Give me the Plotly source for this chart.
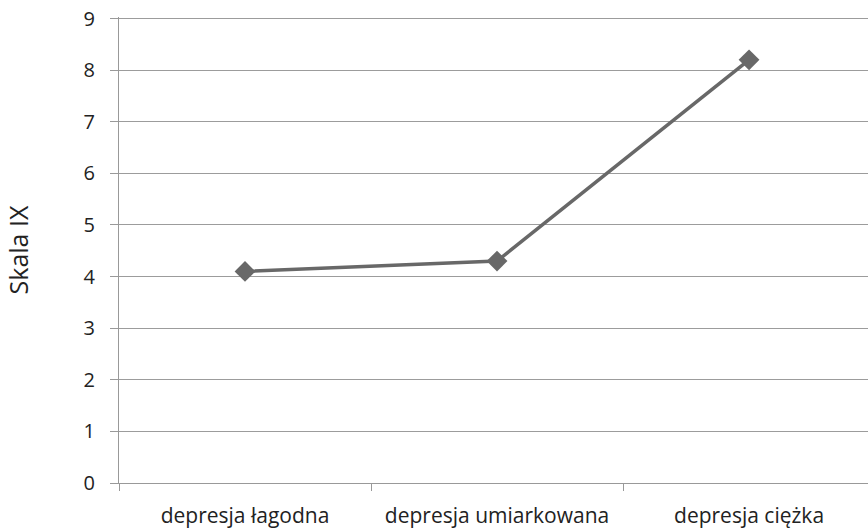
import plotly.graph_objects as go

categories = ["depresja łagodna", "depresja umiarkowana", "depresja ciężka"]
values = [4.1, 4.3, 8.2]
y_ticks = [0, 1, 2, 3, 4, 5, 6, 7, 8, 9]

fig = go.Figure()
fig.add_trace(go.Scatter(
    x=categories, y=values, mode="lines+markers",
    line=dict(color="#686868", width=3.5),
    marker=dict(symbol="diamond", size=16, color="#686868"),
    showlegend=False,
))

font_family = "Open Sans, sans-serif"
fig.update_layout(
    width=868, height=528,
    margin=dict(l=119, r=0, t=17, b=45),
    paper_bgcolor="white", plot_bgcolor="white",
    font=dict(family=font_family, color="#222222"),
)
fig.update_xaxes(
    type="category", range=[-0.5, 2.472],
    tickson="boundaries", ticks="outside", ticklen=7, tickcolor="#999999",
    showgrid=False, showline=True, linecolor="#999999", linewidth=1,
    tickfont=dict(size=21, color="#222222"), ticklabelstandoff=14,
)
fig.update_yaxes(
    range=[0, 9.03], tickvals=y_ticks, ticks="outside", ticklen=8, tickcolor="#999999",
    showgrid=True, gridcolor="#9c9c9c", gridwidth=1,
    showline=True, linecolor="#999999", linewidth=1, zeroline=False,
    tickfont=dict(size=20, color="#222222"), ticklabelstandoff=11,
    ticklabeloverflow="allow",
    title=dict(text="Skala IX", font=dict(size=25, color="#222222"), standoff=47),
    automargin=False,
)
fig.write_html(
    "out.html",
    config={"displayModeBar": False},
    post_script="document.body.style.margin='0';document.body.style.overflow='hidden';",
)
